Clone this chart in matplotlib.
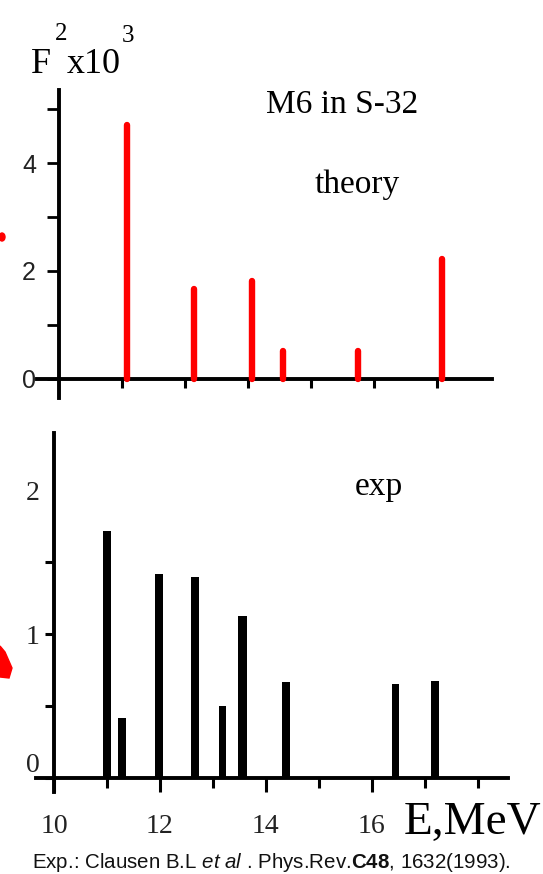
import matplotlib.pyplot as plt
from matplotlib.patches import Polygon, Ellipse

plt.rcParams['mathtext.fontset'] = 'custom'
plt.rcParams['mathtext.rm'] = 'Liberation Sans'
plt.rcParams['mathtext.it'] = 'Liberation Sans:italic'
plt.rcParams['mathtext.bf'] = 'Liberation Sans:bold'

# theory: M6 strength in S-32 (F^2 x 10^3)
theory_E = [11.08, 12.14, 13.06, 13.56, 14.75, 16.08]
theory_F2 = [4.70, 1.67, 1.82, 0.52, 0.52, 2.22]

# experiment (Clausen et al. 1993)
exp_E = [11.00, 11.28, 11.98, 12.66, 13.18, 13.56, 14.38, 16.45, 17.19]
exp_F2 = [1.715, 0.417, 1.417, 1.396, 0.50, 1.125, 0.667, 0.653, 0.674]
exp_width = [0.14, 0.14, 0.14, 0.14, 0.14, 0.18, 0.14, 0.14, 0.14]

top_yticks = [0, 2, 4]
top_yminor = [1, 3, 5]
top_xticks = [11, 12, 13, 14, 15, 16]
bot_xticks = [10, 12, 14, 16]
bot_xminor = [11, 13, 15, 17, 18]
bot_yticks = [0, 1, 2]
bot_yminor = [0.5, 1.5]

W, H = 543, 874
fig = plt.figure(figsize=(W / 100, H / 100), dpi=100)

def px_axes(x0, y0, x1, y1):
    # axes box given in pixels from the top-left corner
    return fig.add_axes([x0 / W, 1 - y1 / H, (x1 - x0) / W, (y1 - y0) / H])

serif = 'Liberation Serif'

# ---- top panel: theory ----
ax1 = px_axes(37, 90, 492, 398)
ax1.vlines(theory_E, 0, theory_F2, color='#ff0000', lw=4.6, capstyle='round', zorder=3)
ax1.set_xlim(9.651, 16.873)
ax1.set_ylim(-0.352, 5.352)
for s in ['top', 'right']:
    ax1.spines[s].set_visible(False)
ax1.spines['left'].set_position(('data', 10))
ax1.spines['bottom'].set_position(('data', 0))
for s in ['left', 'bottom']:
    ax1.spines[s].set_linewidth(2.8)
ax1.set_xticks(top_xticks)
ax1.set_xticklabels([])
ax1.tick_params(axis='x', direction='out', length=6.5, width=2.2)
ax1.set_yticks(top_yticks)
ax1.set_yticks(top_yminor, minor=True)
ax1.tick_params(axis='y', which='both', direction='out', length=8.5, width=2.0,
                labelsize=18, pad=8)
for lab in ax1.get_yticklabels():
    lab.set_family('Liberation Sans')
    lab.set_color('#222222')
ax1.patch.set_alpha(0)

ax1.text(342 / W, 1 - 113 / H, 'M6 in S-32', transform=fig.transFigure,
         fontsize=24, family=serif, ha='center', va='baseline')
ax1.text(357 / W, 1 - 193 / H, 'theory', transform=fig.transFigure,
         fontsize=24, family=serif, ha='center', va='baseline')

# axis label F^2 x10^3
fig.text(31 / W, 1 - 73 / H, 'F', fontsize=26, family=serif, va='baseline')
fig.text(55 / W, 1 - 40 / H, '2', fontsize=18, family=serif, va='baseline')
fig.text(67 / W, 1 - 73 / H, 'x10', fontsize=26, family=serif, va='baseline')
fig.text(122 / W, 1 - 42 / H, '3', fontsize=18, family=serif, va='baseline')

# ---- bottom panel: experiment ----
ax2 = px_axes(36, 433, 508, 792)
ax2.bar(exp_E, exp_F2, width=exp_width, color='black', zorder=3)
ax2.set_xlim(9.66, 18.57)
ax2.set_ylim(-0.097, 2.40)
for s in ['top', 'right']:
    ax2.spines[s].set_visible(False)
ax2.spines['left'].set_position(('data', 10))
ax2.spines['bottom'].set_position(('data', 0))
for s in ['left', 'bottom']:
    ax2.spines[s].set_linewidth(2.8)
ax2.set_xticks(bot_xticks)
ax2.set_xticks(bot_xminor, minor=True)
ax2.tick_params(axis='x', which='major', direction='out', length=10, width=2.2,
                labelsize=20, pad=16)
ax2.tick_params(axis='x', which='minor', direction='out', length=7, width=2.2)
ax2.set_yticks(bot_yticks)
ax2.set_yticks(bot_yminor, minor=True)
ax2.tick_params(axis='y', which='both', direction='out', length=6.5, width=2.2,
                labelsize=20, pad=4)
ax2.yaxis.get_major_ticks()[2].tick1line.set_visible(False)
for lab in ax2.get_xticklabels() + ax2.get_yticklabels():
    lab.set_family(serif)
    lab.set_color('#222222')
ax2.get_yticklabels()[0].set_va('bottom')
ax2.patch.set_alpha(0)

fig.text(379 / W, 1 - 495 / H, 'exp', fontsize=24, family=serif,
         ha='center', va='baseline')
fig.text(404 / W, 1 - 834 / H, 'E,MeV', fontsize=34, family=serif, va='baseline')

fig.text(32 / W, 1 - 868 / H,
         r'Exp.: Clausen B.L $\mathit{et\ al}$ . Phys.Rev.$\mathbf{C48}$, 1632(1993).',
         fontsize=14.8, family='Liberation Sans', va='baseline', color='#111111')

# red fragments at the left edge
fig.patches.append(Ellipse((2 / W, 1 - 237 / H), 6 / W, 8 / H, color='#ff0000',
                           transform=fig.transFigure, figure=fig))
fig.patches.append(Polygon([(0, 1 - 646 / H), (5 / W, 1 - 652 / H), (12 / W, 1 - 668 / H),
                            (9 / W, 1 - 678 / H), (0, 1 - 677 / H)], closed=True,
                           color='#ff0000', transform=fig.transFigure, figure=fig))

fig.savefig('out.png', dpi=100)
